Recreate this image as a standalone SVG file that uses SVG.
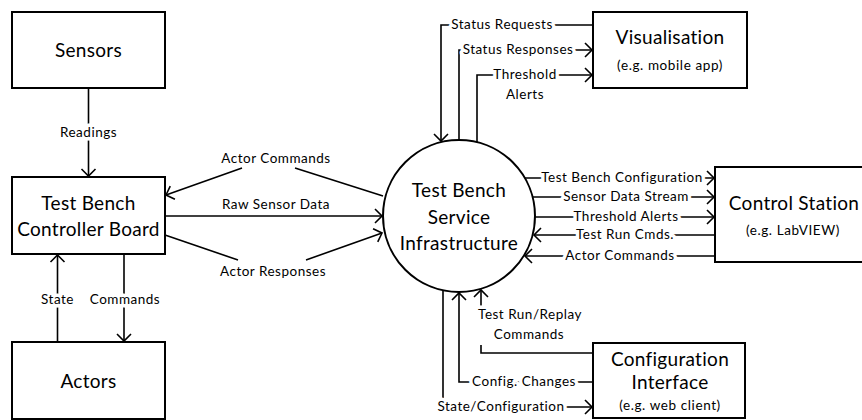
<svg xmlns="http://www.w3.org/2000/svg" width="862" height="420" viewBox="0 0 862 420">
  <style>
    .box { fill: #fff; stroke: #000; stroke-width: 2; }
    .wire { fill: none; stroke: #000; stroke-width: 1.6; }
    .title { font-family: Lato, "Open Sans", "Liberation Sans", sans-serif; font-size: 19px; letter-spacing: 0.3px; fill: #000; text-anchor: middle; }
    .sub { font-family: Lato, "Open Sans", "Liberation Sans", sans-serif; font-size: 13.5px; letter-spacing: 0.6px; fill: #000; text-anchor: middle; }
    .lbl { font-family: Lato, "Open Sans", "Liberation Sans", sans-serif; font-size: 13.5px; letter-spacing: 0.5px; fill: #000; text-anchor: middle; stroke: #fff; stroke-width: 7; paint-order: stroke; stroke-linejoin: round; }
  </style>
  <defs>
    <marker id="arrow" viewBox="-9 -9 11 18" refX="0" refY="0" markerWidth="11" markerHeight="18" markerUnits="userSpaceOnUse" orient="auto">
      <path d="M-7,-7 L0,0 L-7,7" fill="none" stroke="#000" stroke-width="1.6"/>
    </marker>
  </defs>

  <rect width="862" height="420" fill="#fff"/>

  <!-- connectors first, so labels and nodes sit on top -->
  <g id="connectors">
    <!-- Sensors -> Controller -->
    <path class="wire" d="M88.5,88 V176" marker-end="url(#arrow)"/>
    <!-- Actors <-> Controller -->
    <path class="wire" d="M57.5,342 V255" marker-end="url(#arrow)"/>
    <path class="wire" d="M124,254 V341" marker-end="url(#arrow)"/>
    <!-- Controller <-> Service Infrastructure -->
    <path class="wire" d="M242,168 L166,195" marker-end="url(#arrow)"/>
    <path class="wire" d="M295,168 L383,196"/>
    <path class="wire" d="M165,216 H382" marker-end="url(#arrow)"/>
    <path class="wire" d="M165,235 L238,260"/>
    <path class="wire" d="M306,260 L382,233" marker-end="url(#arrow)"/>
    <!-- Visualisation -->
    <path class="wire" d="M593,25 H441 V141" marker-end="url(#arrow)"/>
    <path class="wire" d="M459,140 V50 H592" marker-end="url(#arrow)"/>
    <path class="wire" d="M477,142 V75 H592" marker-end="url(#arrow)"/>
    <!-- Control Station -->
    <path class="wire" d="M525,178 H714" marker-end="url(#arrow)"/>
    <path class="wire" d="M533,197 H714" marker-end="url(#arrow)"/>
    <path class="wire" d="M535,217 H714" marker-end="url(#arrow)"/>
    <path class="wire" d="M715,235 H534" marker-end="url(#arrow)"/>
    <path class="wire" d="M715,256 H525" marker-end="url(#arrow)"/>
    <!-- Configuration Interface -->
    <path class="wire" d="M443,290 V407 H592" marker-end="url(#arrow)"/>
    <path class="wire" d="M593,382 H459 V293" marker-end="url(#arrow)"/>
    <path class="wire" d="M593,353 H481 V345"/>
    <path class="wire" d="M481,307 V290" marker-end="url(#arrow)"/>

    <!-- connector labels -->
    <text class="lbl" x="88.5" y="137">Readings</text>
    <text class="lbl" x="57.5" y="304">State</text>
    <text class="lbl" x="125" y="304">Commands</text>
    <text class="lbl" x="276" y="163">Actor Commands</text>
    <text class="lbl" x="276" y="209">Raw Sensor Data</text>
    <text class="lbl" x="273" y="276">Actor Responses</text>
    <text class="lbl" x="502" y="29">Status Requests</text>
    <text class="lbl" x="518" y="54">Status Responses</text>
    <text class="lbl" x="525" y="79">Threshold</text>
    <text class="lbl" x="525" y="99">Alerts</text>
    <text class="lbl" x="622" y="182">Test Bench Configuration</text>
    <text class="lbl" x="626" y="201">Sensor Data Stream</text>
    <text class="lbl" x="626" y="221">Threshold Alerts</text>
    <text class="lbl" x="625" y="239">Test Run Cmds.</text>
    <text class="lbl" x="620" y="260">Actor Commands</text>
    <text class="lbl" x="530" y="319">Test Run/Replay</text>
    <text class="lbl" x="529" y="339">Commands</text>
    <text class="lbl" x="524" y="386">Config. Changes</text>
    <text class="lbl" x="501" y="411">State/Configuration</text>
  </g>

  <g id="sensors">
    <rect class="box" x="12" y="12" width="153" height="76"/>
    <text class="title" x="88.5" y="57">Sensors</text>
  </g>

  <g id="controller-board">
    <rect class="box" x="12" y="177" width="153" height="77"/>
    <text class="title" x="88.5" y="210">Test Bench</text>
    <text class="title" x="88.5" y="236">Controller Board</text>
  </g>

  <g id="actors">
    <rect class="box" x="12" y="342" width="153" height="77"/>
    <text class="title" x="88.5" y="388">Actors</text>
  </g>

  <g id="service-infrastructure">
    <circle cx="459" cy="216" r="76" fill="#fff" stroke="#000" stroke-width="2"/>
    <text class="title" x="459" y="197">Test Bench</text>
    <text class="title" x="459" y="224">Service</text>
    <text class="title" x="459" y="250">Infrastructure</text>
  </g>

  <g id="visualisation">
    <rect class="box" x="593" y="12" width="154" height="76"/>
    <text class="title" x="670" y="44">Visualisation</text>
    <text class="sub" x="670" y="70">(e.g. mobile app)</text>
  </g>

  <g id="control-station">
    <rect class="box" x="715" y="167" width="160" height="95"/>
    <text class="title" x="794" y="210">Control Station</text>
    <text class="sub" x="793" y="235">(e.g. LabVIEW)</text>
  </g>

  <g id="configuration-interface">
    <rect class="box" x="593" y="343" width="152" height="75"/>
    <text class="title" x="670" y="366">Configuration</text>
    <text class="title" x="670" y="389">Interface</text>
    <text class="sub" x="670" y="410">(e.g. web client)</text>
  </g>
</svg>
